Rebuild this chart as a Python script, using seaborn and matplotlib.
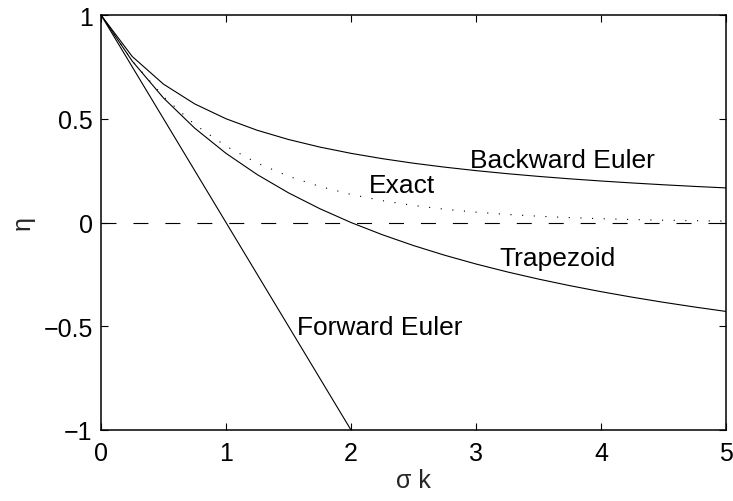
import matplotlib
matplotlib.use("Agg")
import matplotlib.pyplot as plt
import seaborn as sns
import pandas as pd

# ---- data ----
sk = [0, 0.25, 0.5, 0.75, 1, 1.25, 1.5, 1.75, 2, 2.25, 2.5, 2.75, 3,
      3.25, 3.5, 3.75, 4, 4.25, 4.5, 4.75, 5]
backward_euler = [1, .8, .6667, .5714, .5, .4444, .4, .3636, .3333, .3077, .2857,
                  .2667, .25, .2353, .2222, .2105, .2, .1905, .1818, .1739, .1667]
trapezoid = [1, .7778, .6, .4545, .3333, .2308, .1429, .0667, 0, -.0588, -.1111,
             -.1579, -.2, -.2381, -.2727, -.3043, -.3333, -.36, -.3846, -.4074, -.4286]
exact = [1, .7788, .6065, .4724, .3679, .2865, .2231, .1738, .1353, .1054, .0821,
         .0639, .0498, .0388, .0302, .0235, .0183, .0143, .0111, .0087, .0067]
fe_sk = [0, 0.25, 0.5, 0.75, 1, 1.25, 1.5, 1.75, 2]
forward_euler = [1, .75, .5, .25, 0, -.25, -.5, -.75, -1]
zero_x = [0, 5]
zero_y = [0, 0]

labels = ["Backward Euler", "Exact", "Trapezoid", "Forward Euler"]
label_x = [2.95, 2.14, 3.19, 1.57]
label_y = [0.266, 0.145, -0.207, -0.535]

sns.set_style("ticks")
plt.rcParams["font.family"] = ["Liberation Sans", "DejaVu Sans"]
plt.rcParams["lines.scale_dashes"] = False

fig = plt.figure(figsize=(7.33, 5.02), dpi=100)
ax = fig.add_axes([101 / 733, 1 - 431 / 502, 625 / 733, 415 / 502])

lw = 0.8
sns.lineplot(x=sk, y=backward_euler, ax=ax, color="black", lw=lw, estimator=None, sort=False)
sns.lineplot(x=sk, y=trapezoid, ax=ax, color="black", lw=lw, estimator=None, sort=False)
sns.lineplot(x=fe_sk, y=forward_euler, ax=ax, color="black", lw=lw, estimator=None, sort=False)
sns.lineplot(x=sk, y=exact, ax=ax, color="black", lw=0.8, estimator=None, sort=False,
             linestyle=(0, (0.8, 7.6)))
sns.lineplot(x=zero_x, y=zero_y, ax=ax, color="black", lw=lw, estimator=None, sort=False,
             linestyle=(0, (10.8, 12.2)))

for t, xx, yy in zip(labels, label_x, label_y):
    ax.text(xx, yy, t, fontsize=19, ha="left", va="baseline", color="black")

ax.set_xlim(0, 5)
ax.set_ylim(-1, 1)
ax.set_xticks([0, 1, 2, 3, 4, 5])
ax.set_xticklabels(["0", "1", "2", "3", "4", "5"])
ax.set_yticks([-1, -0.5, 0, 0.5, 1])
ax.set_yticklabels(["\u22121", "\u22120.5", "0", "0.5", "1"])
ax.tick_params(direction="in", length=5, width=0.8, top=True, right=True,
               labelsize=18, colors="black")
ax.tick_params(axis="x", pad=8)
ax.tick_params(axis="y", pad=6)
for s in ax.spines.values():
    s.set_visible(True)
    s.set_linewidth(1.1)
    s.set_color("black")

ax.set_xlabel("\u03c3 k", fontsize=18, labelpad=2)
ax.set_ylabel("\u03b7", fontsize=18, labelpad=6)

fig.savefig("out.png", dpi=100)
